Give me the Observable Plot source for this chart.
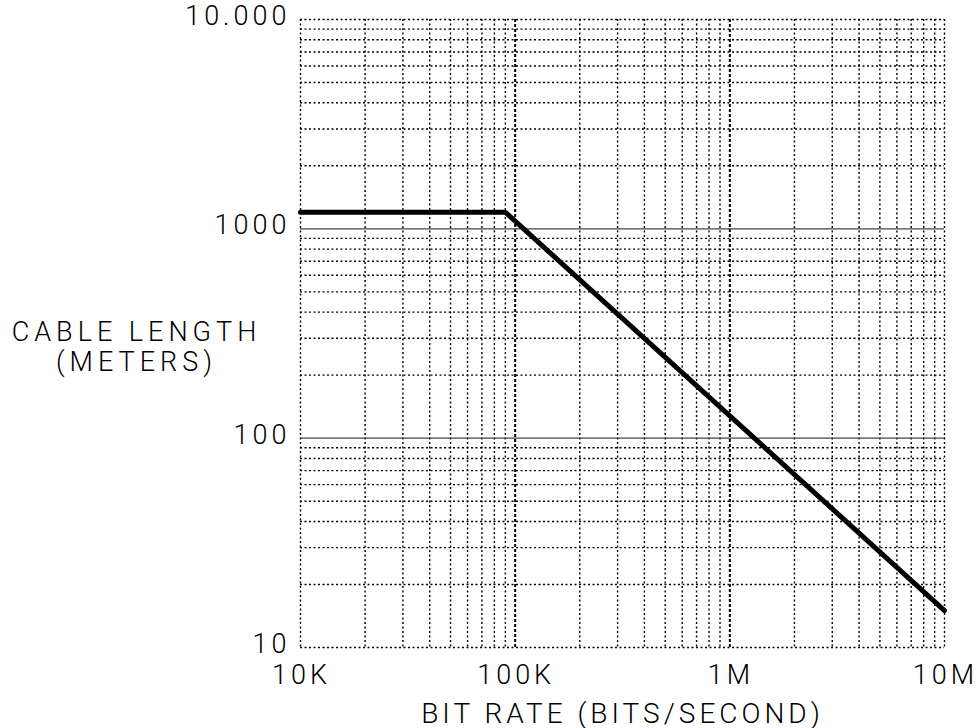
<!DOCTYPE html>
<html>
<head>
<meta charset="utf-8">
<script src="https://cdn.jsdelivr.net/npm/d3@7"></script>
<script src="https://cdn.jsdelivr.net/npm/@observablehq/plot@0.6"></script>
<style>
  html, body { margin: 0; padding: 0; background: #fff; }
  #chart svg { display: block; }
</style>
</head>
<body>
<div id="chart"></div>
<script>
// Data
const bitRates = [1e4, 9e4, 1e7];          // bits/second
const cableLengths = [1200, 1200, 15];     // meters

const xTickValues = [1e4, 1e5, 1e6, 1e7];
const xTickLabels = ["10K", "100K", "1M", "10M"];
const yTickValues = [10, 100, 1000, 10000];
const yTickLabels = ["10", "100", "1000", "10.000"];

const xTitle = "BIT RATE (BITS/SECOND)";
const yTitle = "CABLE LENGTH\n(METERS)";

const curve = bitRates.map((x, i) => ({x, y: cableLengths[i]}));

const xDomain = [1e4, 1e7];
const yDomain = [10, 1e4];
const xGrid = d3.scaleLog().domain(xDomain).ticks();
const yGrid = d3.scaleLog().domain(yDomain).ticks();
const xMajor = xTickValues.slice(1, -1);
const yMajor = yTickValues.slice(1, -1);
const xMinor = xGrid.filter(v => !xMajor.includes(v));
const yMinor = yGrid.filter(v => !yMajor.includes(v));

const font = "Roboto, 'DejaVu Sans', sans-serif";

const chart = Plot.plot({
  width: 979,
  height: 728,
  marginLeft: 300,
  marginRight: 35,
  marginTop: 19,
  marginBottom: 81,
  x: {type: "log", domain: xDomain, axis: null},
  y: {type: "log", domain: yDomain, axis: null},
  style: {fontFamily: font, background: "#fff"},
  marks: [
    Plot.ruleX(xMinor, {x: d => d, stroke: "#000", strokeWidth: 1.4, strokeDasharray: "2,2.5"}),
    Plot.ruleX(xMajor, {x: d => d, stroke: "#000", strokeWidth: 2, strokeDasharray: "3,2"}),
    Plot.ruleY(yMinor, {y: d => d, stroke: "#000", strokeWidth: 1.4, strokeDasharray: "2,2.5"}),
    Plot.ruleY(yMajor, {y: d => d, stroke: "#444", strokeWidth: 1.3}),
    Plot.line(curve, {x: "x", y: "y", stroke: "#000", strokeWidth: 5, strokeLinejoin: "miter", strokeLinecap: "round"}),
    Plot.text(yTickValues, {
      y: d => d, text: (d, i) => yTickLabels[i], frameAnchor: "left", textAnchor: "end",
      dx: -10, dy: -3, fontSize: 27, fontWeight: 300, fill: "#000"
    }),
    Plot.text(xTickValues, {
      x: d => d, text: (d, i) => xTickLabels[i], frameAnchor: "bottom", textAnchor: "middle",
      dx: 1, dy: 36, fontSize: 27, fontWeight: 300, fill: "#000"
    }),
    Plot.text([xTitle], {
      frameAnchor: "bottom", dy: 75, fontSize: 28, fontWeight: 300, fill: "#000"
    }),
    Plot.text([yTitle], {
      frameAnchor: "left", dx: -164, dy: 13, textAnchor: "middle", lineHeight: 1.12,
      fontSize: 27, fontWeight: 300, fill: "#000", className: "ytitle"
    })
  ]
});
chart.querySelectorAll("text").forEach(t => t.setAttribute("letter-spacing", "4"));
chart.querySelectorAll(".ytitle text").forEach(t => t.setAttribute("letter-spacing", "5"));
document.getElementById("chart").appendChild(chart);
</script>
</body>
</html>
